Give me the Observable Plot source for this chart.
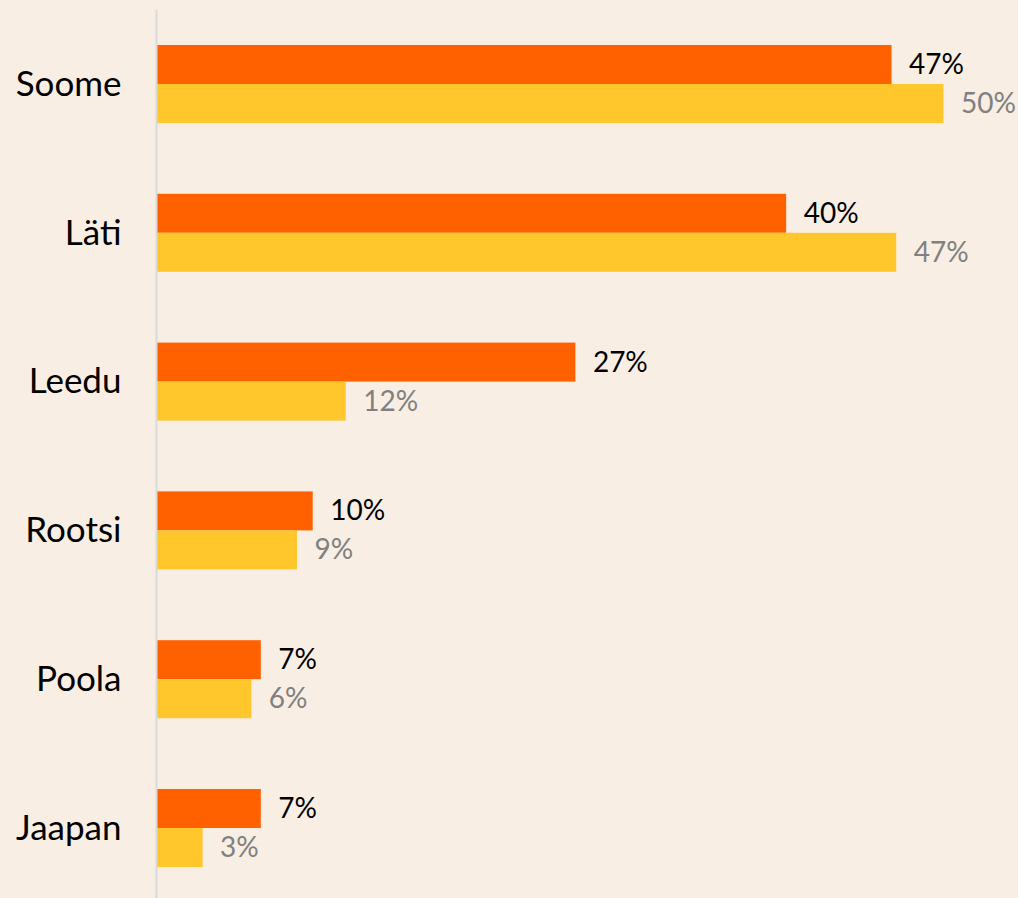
<!DOCTYPE html>
<html>
<head>
<meta charset="utf-8">
<script src="https://cdn.jsdelivr.net/npm/d3@7"></script>
<script src="https://cdn.jsdelivr.net/npm/@observablehq/plot@0.6"></script>
<style>
  html, body { margin: 0; padding: 0; background: #F9EEE4; }
  #chart svg { display: block; }
</style>
</head>
<body>
<div id="chart"></div>
<script>
const countries = ["Soome", "Läti", "Leedu", "Rootsi", "Poola", "Jaapan"];
const seriesA = [46.7, 40.0, 26.6, 9.9, 6.6, 6.6];   // orange
const seriesB = [50.0, 47.0, 12.0, 8.9, 6.0, 2.9];   // yellow

const dataA = countries.map((c, i) => ({country: c, value: seriesA[i]}));
const dataB = countries.map((c, i) => ({country: c, value: seriesB[i]}));

const fmt = d => Math.round(d.value) + "%";
const half = 148.8 / 2;
const barH = 39;

const chart = Plot.plot({
  width: 1018,
  height: 898,
  marginLeft: 157,
  marginRight: 0,
  marginTop: 10,
  marginBottom: 0,
  style: {background: "#F9EEE4", fontFamily: "Lato, sans-serif"},
  x: {domain: [0, 54.74], axis: null},
  y: {domain: countries, range: [9.6, 902.4], padding: 0, round: false, label: null},
  marks: [
    Plot.barX(dataA, {x: "value", y: "country", fill: "#FF6000", insetTop: half - barH, insetBottom: half}),
    Plot.barX(dataB, {x: "value", y: "country", fill: "#FFC72C", insetTop: half, insetBottom: half - barH}),
    Plot.text(dataA, {x: "value", y: "country", text: fmt, dy: -barH / 2, dx: 17, textAnchor: "start", fill: "#000", fontSize: 28}),
    Plot.text(dataB, {x: "value", y: "country", text: fmt, dy: barH / 2, dx: 17, textAnchor: "start", fill: "#808080", fontSize: 28}),
    Plot.ruleX([0], {stroke: "#D9D9D9", strokeWidth: 2, dx: -1}),
    Plot.axisY({tickSize: 0, tickPadding: 36, fontSize: 35, fill: "#000", label: null})
  ]
});
document.getElementById("chart").appendChild(chart);
</script>
</body>
</html>
